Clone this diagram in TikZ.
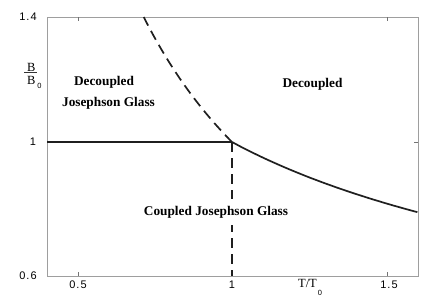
\documentclass[tikz,border=0pt]{standalone}
\usepackage{fontspec}
\setmainfont{Liberation Serif}
\newfontfamily\hv{Liberation Sans}
\begin{document}
\begin{tikzpicture}[x=1pt,y=-1pt,
  axis/.style={draw=black!38,line width=0.9pt},
  tick/.style={draw=black!55,line width=0.7pt},
  phase/.style={line width=1.7pt,black!88},
  dashphase/.style={phase,dash pattern=on 10pt off 6pt},
  region/.style={font=\fontsize{13.3}{14}\selectfont\bfseries,inner sep=0pt,anchor=base},
  num/.style={font=\hv\fontsize{11}{12}\selectfont,inner sep=0pt},
  lab/.style={font=\fontsize{12.5}{13}\selectfont,inner sep=0pt}]
\useasboundingbox (0,0) rectangle (443,306);
% frame
\coordinate (BL) at (47,276);
\coordinate (TR) at (418,17);
\draw[axis] (BL) rectangle (TR);
% ticks
\foreach \xx in {78,387}{
  \draw[tick] (\xx,276) -- (\xx,272);
  \draw[tick] (\xx,17) -- (\xx,21);
}
\draw[tick] (418,142) -- (414,142);
% key points
\coordinate (L) at (47,142);
\coordinate (J) at (232,142);
\coordinate (D) at (232,276);
% phase lines
\draw[phase] (L) -- (J);
\draw[dashphase] (J) -- (D);
\draw[dashphase] plot[domain=1:0.7143,samples=40,smooth] ({232+309*(\x-1)},{142-312.5*(1/\x-1)});
\draw[phase] plot[domain=1:1.6,samples=40,smooth] ({232+309*(\x-1)},{142+335*(1-1/sqrt(\x))});
% y tick labels
\node[num] (y14) at (28,17) {1\kern1pt.\kern1pt4};
\node[num] (y1) at (33,142) {1};
\node[num] (y06) at (28,276) {0\kern1pt.\kern1pt6};
% x tick labels
\node[num] (x05) at (78,285) {0\kern1pt.\kern1pt5};
\node[num] (x1) at (232,285) {1};
\node[num] (x15) at (389,285) {1\kern1pt.\kern1pt5};
% axis labels
\node[lab,anchor=base] (xl) at (307.5,287.3) {T/T};
\node[font=\hv\fontsize{7.5}{8}\selectfont,inner sep=0pt] (xls) at (xl.base east) [xshift=3pt,yshift=-5.5pt] {0};
\node[lab] (Bn) at (31.2,67.5) {B};
\node[lab] (Bd) at (31.2,80) {B};
\draw[black!80,line width=0.6pt] (24,72.7) coordinate (b1) -- (37.3,72.7) coordinate (b2);
\node[font=\hv\fontsize{7.5}{8}\selectfont,inner sep=0pt] (Bs) at (39.5,86) {0};
% region labels
\node[region] (dl) at (104,85) {Decoupled};
\node[region] (jg) at (108.5,106.5) {Josephson Glass};
\node[region] (dr) at (312.5,87) {Decoupled};
\node[region,fill=white,inner xsep=2pt,inner ysep=7pt] (cg) at (216,215.5) {Coupled Josephson Glass};
\end{tikzpicture}
\end{document}
